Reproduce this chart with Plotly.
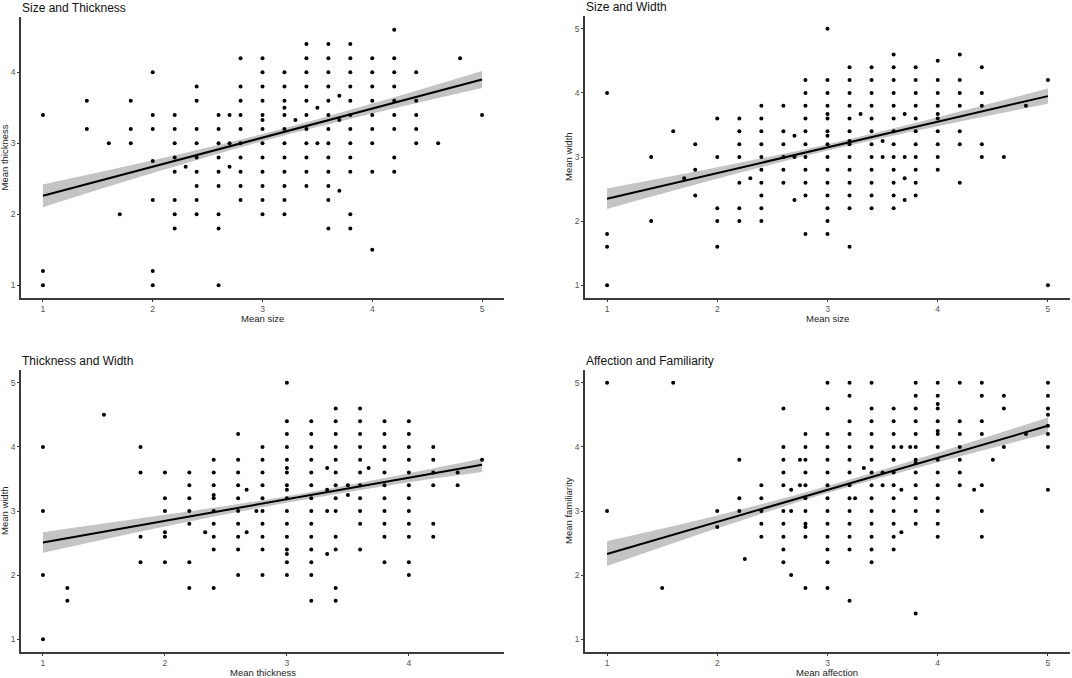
import plotly.graph_objects as go

W, H = 1072, 678

# ---- data: (mean x, mean y) per item ----
size_thick = [
    (1, 3.4), (1, 1.2), (1, 1.0),
    (1.4, 3.6), (1.4, 3.2), (1.6, 3.0), (1.7, 2.0),
    (1.8, 3.6), (1.8, 3.2), (1.8, 3.0),
    (2, 4.0), (2, 3.4), (2, 3.2), (2, 2.75), (2, 2.2), (2, 1.2), (2, 1.0),
    (2.2, 3.4), (2.2, 3.2), (2.2, 3.0), (2.2, 2.8), (2.2, 2.6), (2.2, 2.2), (2.2, 2.0), (2.2, 1.8),
    (2.3, 2.67),
    (2.4, 3.8), (2.4, 3.6), (2.4, 3.2), (2.4, 3.0), (2.4, 2.8), (2.4, 2.6), (2.4, 2.4), (2.4, 2.2), (2.4, 2.0),
    (2.6, 3.4), (2.6, 3.2), (2.6, 3.0), (2.6, 2.8), (2.6, 2.6), (2.6, 2.4), (2.6, 2.0), (2.6, 1.8), (2.6, 1.0),
    (2.7, 3.4), (2.7, 3.0), (2.7, 2.67),
    (2.8, 4.2), (2.8, 3.8), (2.8, 3.6), (2.8, 3.4), (2.8, 3.2), (2.8, 3.0), (2.8, 2.8), (2.8, 2.6), (2.8, 2.4), (2.8, 2.2),
    (3, 4.2), (3, 4.0), (3, 3.8), (3, 3.6), (3, 3.4), (3, 3.33), (3, 3.2), (3, 3.0), (3, 2.8), (3, 2.6), (3, 2.4), (3, 2.2), (3, 2.0),
    (3.2, 4.0), (3.2, 3.8), (3.2, 3.6), (3.2, 3.5), (3.2, 3.4), (3.2, 3.2), (3.2, 3.0), (3.2, 2.8), (3.2, 2.6), (3.2, 2.4), (3.2, 2.2), (3.2, 2.0),
    (3.3, 3.33),
    (3.4, 4.4), (3.4, 4.2), (3.4, 4.0), (3.4, 3.8), (3.4, 3.6), (3.4, 3.4), (3.4, 3.2), (3.4, 3.0), (3.4, 2.8), (3.4, 2.6), (3.4, 2.4),
    (3.5, 3.5), (3.5, 3.0),
    (3.6, 4.4), (3.6, 4.2), (3.6, 4.0), (3.6, 3.8), (3.6, 3.6), (3.6, 3.4), (3.6, 3.2), (3.6, 3.0), (3.6, 2.8), (3.6, 2.6), (3.6, 2.4), (3.6, 2.2), (3.6, 1.8),
    (3.7, 3.67), (3.7, 3.33), (3.7, 2.33),
    (3.8, 4.4), (3.8, 4.2), (3.8, 4.0), (3.8, 3.8), (3.8, 3.6), (3.8, 3.4), (3.8, 3.2), (3.8, 3.0), (3.8, 2.8), (3.8, 2.6), (3.8, 2.0), (3.8, 1.8),
    (4, 4.2), (4, 4.0), (4, 3.8), (4, 3.6), (4, 3.4), (4, 3.2), (4, 3.0), (4, 2.6), (4, 1.5),
    (4.2, 4.6), (4.2, 4.2), (4.2, 4.0), (4.2, 3.8), (4.2, 3.6), (4.2, 3.4), (4.2, 3.2), (4.2, 2.8), (4.2, 2.6),
    (4.4, 4.0), (4.4, 3.6), (4.4, 3.4), (4.4, 3.2), (4.4, 3.0),
    (4.6, 3.0), (4.8, 4.2), (5, 3.4),
]

size_width = [
    (1, 4.0), (1, 1.8), (1, 1.6), (1, 1.0),
    (1.4, 3.0), (1.4, 2.0), (1.6, 3.4), (1.7, 2.67),
    (1.8, 3.2), (1.8, 2.8), (1.8, 2.4),
    (2, 3.6), (2, 3.0), (2, 2.2), (2, 2.0), (2, 1.6),
    (2.2, 3.6), (2.2, 3.4), (2.2, 3.2), (2.2, 3.0), (2.2, 2.6), (2.2, 2.2), (2.2, 2.0),
    (2.3, 2.67),
    (2.4, 3.8), (2.4, 3.6), (2.4, 3.4), (2.4, 3.2), (2.4, 3.0), (2.4, 2.8), (2.4, 2.6), (2.4, 2.4), (2.4, 2.2), (2.4, 2.0),
    (2.6, 3.8), (2.6, 3.4), (2.6, 3.2), (2.6, 3.0), (2.6, 2.8), (2.6, 2.6),
    (2.7, 3.33), (2.7, 3.0), (2.7, 2.33),
    (2.8, 4.2), (2.8, 4.0), (2.8, 3.8), (2.8, 3.6), (2.8, 3.4), (2.8, 3.2), (2.8, 3.0), (2.8, 2.8), (2.8, 2.6), (2.8, 2.4), (2.8, 1.8),
    (3, 5.0), (3, 4.2), (3, 4.0), (3, 3.8), (3, 3.67), (3, 3.6), (3, 3.4), (3, 3.33), (3, 3.2), (3, 3.0), (3, 2.8), (3, 2.6), (3, 2.4), (3, 2.2), (3, 2.0), (3, 1.8),
    (3.2, 4.4), (3.2, 4.2), (3.2, 4.0), (3.2, 3.8), (3.2, 3.6), (3.2, 3.4), (3.2, 3.25), (3.2, 3.2), (3.2, 3.0), (3.2, 2.8), (3.2, 2.6), (3.2, 2.4), (3.2, 2.2), (3.2, 1.6),
    (3.3, 3.67),
    (3.4, 4.4), (3.4, 4.2), (3.4, 4.0), (3.4, 3.8), (3.4, 3.6), (3.4, 3.4), (3.4, 3.2), (3.4, 3.0), (3.4, 2.8), (3.4, 2.6), (3.4, 2.4), (3.4, 2.2),
    (3.5, 3.25), (3.5, 3.0),
    (3.6, 4.6), (3.6, 4.4), (3.6, 4.2), (3.6, 4.0), (3.6, 3.8), (3.6, 3.6), (3.6, 3.4), (3.6, 3.2), (3.6, 3.0), (3.6, 2.8), (3.6, 2.6), (3.6, 2.4), (3.6, 2.2),
    (3.7, 3.67), (3.7, 3.0), (3.7, 2.67), (3.7, 2.33),
    (3.8, 4.4), (3.8, 4.2), (3.8, 4.0), (3.8, 3.8), (3.8, 3.6), (3.8, 3.4), (3.8, 3.2), (3.8, 3.0), (3.8, 2.8), (3.8, 2.6), (3.8, 2.4),
    (4, 4.5), (4, 4.2), (4, 4.0), (4, 3.8), (4, 3.67), (4, 3.6), (4, 3.4), (4, 3.2), (4, 3.0), (4, 2.8),
    (4.2, 4.6), (4.2, 4.2), (4.2, 4.0), (4.2, 3.8), (4.2, 3.4), (4.2, 3.2), (4.2, 2.6),
    (4.4, 4.4), (4.4, 4.0), (4.4, 3.8), (4.4, 3.2), (4.4, 3.0),
    (4.6, 3.0), (4.8, 3.8), (5, 4.2), (5, 1.0),
]

thick_width = [
    (1, 4.0), (1, 3.0), (1, 2.0), (1, 1.0),
    (1.2, 1.8), (1.2, 1.6), (1.5, 4.5),
    (1.8, 4.0), (1.8, 3.6), (1.8, 2.6), (1.8, 2.2),
    (2, 3.6), (2, 3.2), (2, 3.0), (2, 2.67), (2, 2.6), (2, 2.2),
    (2.2, 3.6), (2.2, 3.4), (2.2, 3.2), (2.2, 3.0), (2.2, 2.8), (2.2, 2.2), (2.2, 1.8),
    (2.33, 2.67),
    (2.4, 3.8), (2.4, 3.6), (2.4, 3.4), (2.4, 3.25), (2.4, 3.2), (2.4, 3.0), (2.4, 2.8), (2.4, 2.6), (2.4, 2.4), (2.4, 1.8),
    (2.6, 4.2), (2.6, 3.8), (2.6, 3.6), (2.6, 3.4), (2.6, 3.2), (2.6, 3.0), (2.6, 2.8), (2.6, 2.6), (2.6, 2.4), (2.6, 2.0),
    (2.67, 3.33), (2.67, 2.67), (2.75, 3.0),
    (2.8, 4.0), (2.8, 3.8), (2.8, 3.6), (2.8, 3.4), (2.8, 3.2), (2.8, 3.0), (2.8, 2.8), (2.8, 2.6), (2.8, 2.4), (2.8, 2.0),
    (3, 5.0), (3, 4.4), (3, 4.2), (3, 4.0), (3, 3.8), (3, 3.67), (3, 3.6), (3, 3.4), (3, 3.33), (3, 3.2), (3, 3.0), (3, 2.8), (3, 2.6), (3, 2.4), (3, 2.33), (3, 2.2), (3, 2.0),
    (3.2, 4.4), (3.2, 4.2), (3.2, 4.0), (3.2, 3.8), (3.2, 3.6), (3.2, 3.4), (3.2, 3.2), (3.2, 3.0), (3.2, 2.8), (3.2, 2.6), (3.2, 2.4), (3.2, 2.2), (3.2, 2.0), (3.2, 1.6),
    (3.33, 3.67), (3.33, 3.33), (3.33, 3.0), (3.33, 2.33),
    (3.4, 4.6), (3.4, 4.4), (3.4, 4.2), (3.4, 4.0), (3.4, 3.8), (3.4, 3.6), (3.4, 3.4), (3.4, 3.2), (3.4, 3.0), (3.4, 2.6), (3.4, 2.4), (3.4, 1.8), (3.4, 1.6),
    (3.5, 3.4), (3.5, 3.25),
    (3.6, 4.6), (3.6, 4.4), (3.6, 4.2), (3.6, 4.0), (3.6, 3.8), (3.6, 3.6), (3.6, 3.4), (3.6, 3.2), (3.6, 3.0), (3.6, 2.8), (3.6, 2.4),
    (3.67, 3.67),
    (3.8, 4.4), (3.8, 4.2), (3.8, 4.0), (3.8, 3.8), (3.8, 3.6), (3.8, 3.4), (3.8, 3.2), (3.8, 3.0), (3.8, 2.8), (3.8, 2.6), (3.8, 2.2),
    (4, 4.4), (4, 4.2), (4, 4.0), (4, 3.8), (4, 3.6), (4, 3.4), (4, 3.2), (4, 3.0), (4, 2.8), (4, 2.6), (4, 2.2), (4, 2.0),
    (4.2, 4.0), (4.2, 3.8), (4.2, 3.6), (4.2, 3.4), (4.2, 2.8), (4.2, 2.6),
    (4.4, 3.6), (4.4, 3.4), (4.6, 3.8),
]

affect_famil = [
    (1, 5.0), (1, 3.0), (1.5, 1.8), (1.6, 5.0),
    (2, 3.0), (2, 2.75),
    (2.2, 3.8), (2.2, 3.2), (2.2, 3.0), (2.25, 2.25),
    (2.4, 3.4), (2.4, 3.2), (2.4, 3.0), (2.4, 2.8), (2.4, 2.6),
    (2.6, 4.6), (2.6, 4.0), (2.6, 3.8), (2.6, 3.6), (2.6, 3.4), (2.6, 3.0), (2.6, 2.8), (2.6, 2.6), (2.6, 2.4), (2.6, 2.2),
    (2.67, 3.33), (2.67, 3.0), (2.67, 2.0),
    (2.75, 3.8), (2.75, 3.4),
    (2.8, 4.2), (2.8, 4.0), (2.8, 3.8), (2.8, 3.6), (2.8, 3.4), (2.8, 3.2), (2.8, 3.0), (2.8, 2.8), (2.8, 2.75), (2.8, 2.6), (2.8, 1.8),
    (3, 5.0), (3, 4.6), (3, 4.2), (3, 4.0), (3, 3.8), (3, 3.6), (3, 3.4), (3, 3.2), (3, 3.0), (3, 2.8), (3, 2.6), (3, 2.4), (3, 2.2), (3, 1.8),
    (3.2, 5.0), (3.2, 4.8), (3.2, 4.4), (3.2, 4.2), (3.2, 4.0), (3.2, 3.8), (3.2, 3.6), (3.2, 3.4), (3.2, 3.2), (3.2, 3.0), (3.2, 2.8), (3.2, 2.6), (3.2, 2.4), (3.2, 1.6),
    (3.25, 3.2), (3.33, 3.67),
    (3.4, 5.0), (3.4, 4.6), (3.4, 4.4), (3.4, 4.2), (3.4, 4.0), (3.4, 3.8), (3.4, 3.6), (3.4, 3.4), (3.4, 3.2), (3.4, 3.0), (3.4, 2.8), (3.4, 2.6), (3.4, 2.4), (3.4, 2.2),
    (3.5, 3.6), (3.5, 3.4),
    (3.6, 4.6), (3.6, 4.4), (3.6, 4.2), (3.6, 4.0), (3.6, 3.8), (3.6, 3.6), (3.6, 3.4), (3.6, 3.2), (3.6, 3.0), (3.6, 2.8), (3.6, 2.6), (3.6, 2.4),
    (3.67, 4.0), (3.67, 3.33), (3.67, 2.67), (3.75, 4.0),
    (3.8, 5.0), (3.8, 4.8), (3.8, 4.6), (3.8, 4.4), (3.8, 4.2), (3.8, 4.0), (3.8, 3.8), (3.8, 3.75), (3.8, 3.6), (3.8, 3.4), (3.8, 3.2), (3.8, 3.0), (3.8, 2.8), (3.8, 1.4),
    (4, 5.0), (4, 4.8), (4, 4.67), (4, 4.6), (4, 4.4), (4, 4.25), (4, 4.2), (4, 4.0), (4, 3.8), (4, 3.6), (4, 3.4), (4, 3.2), (4, 3.0), (4, 2.8), (4, 2.6),
    (4.2, 5.0), (4.2, 4.4), (4.2, 4.2), (4.2, 4.0), (4.2, 3.8), (4.2, 3.6), (4.2, 3.4),
    (4.33, 3.33),
    (4.4, 5.0), (4.4, 4.8), (4.4, 4.4), (4.4, 4.2), (4.4, 3.4), (4.4, 3.0), (4.4, 2.6),
    (4.5, 3.8),
    (4.6, 4.8), (4.6, 4.6), (4.6, 4.0), (4.8, 4.2),
    (5, 5.0), (5, 4.8), (5, 4.6), (5, 4.5), (5, 4.33), (5, 4.2), (5, 4.0), (5, 3.33),
]

# linear fit and 95% band, read at a few x positions
fit_x_5 = [1, 2, 3, 4, 5]
fit_x_46 = [1, 2, 3, 4, 4.6]

st_fit = [2.26, 2.67, 3.08, 3.49, 3.90]
st_lo = [2.10, 2.58, 3.03, 3.42, 3.78]
st_hi = [2.42, 2.76, 3.13, 3.56, 4.02]

sw_fit = [2.35, 2.75, 3.15, 3.55, 3.95]
sw_lo = [2.19, 2.66, 3.10, 3.48, 3.83]
sw_hi = [2.51, 2.84, 3.20, 3.62, 4.07]

tw_fit = [2.51, 2.85, 3.18, 3.52, 3.72]
tw_lo = [2.35, 2.76, 3.13, 3.45, 3.61]
tw_hi = [2.67, 2.94, 3.23, 3.59, 3.82]

af_fit = [2.33, 2.83, 3.33, 3.83, 4.33]
af_lo = [2.14, 2.73, 3.28, 3.76, 4.21]
af_hi = [2.53, 2.93, 3.39, 3.91, 4.46]

panels = [
    dict(title="Size and Thickness", xt="Mean size", yt="Mean thickness", pts=size_thick,
         fx=fit_x_5, fy=st_fit, lo=st_lo, hi=st_hi,
         xr=[0.8, 5.2], yr=[0.82, 4.78], xticks=[1, 2, 3, 4, 5], yticks=[1, 2, 3, 4],
         box=(21, 504, 17, 298), xt_y=318),
    dict(title="Size and Width", xt="Mean size", yt="Mean width", pts=size_width,
         fx=fit_x_5, fy=sw_fit, lo=sw_lo, hi=sw_hi,
         xr=[0.8, 5.2], yr=[0.8, 5.2], xticks=[1, 2, 3, 4, 5], yticks=[1, 2, 3, 4, 5],
         box=(585, 1070, 16, 298), xt_y=318),
    dict(title="Thickness and Width", xt="Mean thickness", yt="Mean width", pts=thick_width,
         fx=fit_x_46, fy=tw_fit, lo=tw_lo, hi=tw_hi,
         xr=[0.82, 4.78], yr=[0.8, 5.2], xticks=[1, 2, 3, 4], yticks=[1, 2, 3, 4, 5],
         box=(21, 504, 370, 652), xt_y=672),
    dict(title="Affection and Familiarity", xt="Mean affection", yt="Mean familiarity", pts=affect_famil,
         fx=fit_x_5, fy=af_fit, lo=af_lo, hi=af_hi,
         xr=[0.8, 5.2], yr=[0.8, 5.2], xticks=[1, 2, 3, 4, 5], yticks=[1, 2, 3, 4, 5],
         box=(585, 1070, 370, 652), xt_y=672),
]

FONT = "Liberation Sans, Arial, sans-serif"
fig = go.Figure()
annotations = []
layout = {}

for i, p in enumerate(panels):
    n = "" if i == 0 else str(i + 1)
    xa, ya = "x" + n, "y" + n
    x0, x1, y0, y1 = p["box"]

    fig.add_trace(go.Scatter(x=p["fx"], y=p["lo"], mode="lines", line=dict(width=0, shape="spline"),
                             xaxis=xa, yaxis=ya, hoverinfo="skip"))
    fig.add_trace(go.Scatter(x=p["fx"], y=p["hi"], mode="lines", line=dict(width=0, shape="spline"),
                             fill="tonexty", fillcolor="#c4c4c4", xaxis=xa, yaxis=ya, hoverinfo="skip"))
    fig.add_trace(go.Scatter(x=p["fx"], y=p["fy"], mode="lines", line=dict(color="black", width=2),
                             xaxis=xa, yaxis=ya))
    xs = [q[0] for q in p["pts"]]
    ys = [q[1] for q in p["pts"]]
    fig.add_trace(go.Scatter(x=xs, y=ys, mode="markers", marker=dict(color="black", size=4),
                             xaxis=xa, yaxis=ya))

    axis_common = dict(showgrid=False, zeroline=False, showline=True, linecolor="#3a3a3a",
                       linewidth=1.5, ticks="outside", ticklen=2, tickcolor="#3a3a3a",
                       tickfont=dict(family=FONT, size=8.5, color="#555555"))
    layout["xaxis" + n] = dict(axis_common, domain=[x0 / W, x1 / W], range=p["xr"],
                               tickvals=p["xticks"], anchor=ya)
    layout["yaxis" + n] = dict(axis_common, domain=[1 - y1 / H, 1 - y0 / H], range=p["yr"],
                               tickvals=p["yticks"], anchor=xa)

    annotations.append(dict(text=p["title"], x=(x0 - 1) / W, y=1 - (y0 - 9) / H, xref="paper", yref="paper",
                            xanchor="left", yanchor="middle", showarrow=False,
                            font=dict(family=FONT, size=12, color="#111111")))
    annotations.append(dict(text=p["xt"], x=(x0 + x1) / 2 / W, y=1 - p["xt_y"] / H,
                            xref="paper", yref="paper", xanchor="center", yanchor="middle", showarrow=False,
                            font=dict(family=FONT, size=9.5, color="#222222")))
    annotations.append(dict(text=p["yt"], x=(x0 - 17) / W, y=1 - (y0 + y1) / 2 / H, xref="paper", yref="paper",
                            xanchor="center", yanchor="middle", showarrow=False, textangle=-90,
                            font=dict(family=FONT, size=9.5, color="#222222")))

fig.update_layout(width=W, height=H, margin=dict(l=0, r=0, t=0, b=0), showlegend=False,
                  plot_bgcolor="white", paper_bgcolor="white", annotations=annotations, **layout)

fig.write_html("out.html", config={"displayModeBar": False},
               post_script="document.body.style.margin='0';document.body.style.overflow='hidden';")
